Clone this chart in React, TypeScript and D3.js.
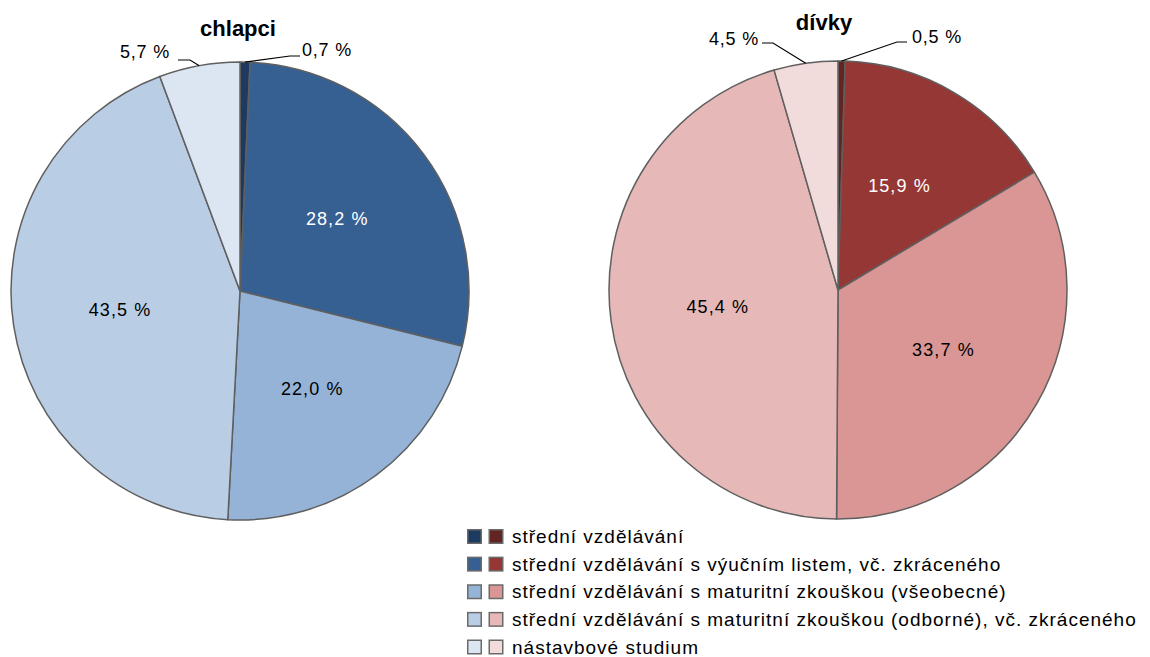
import React from "react";
import * as d3 from "d3";

const categories = [
  "střední vzdělávání",
  "střední vzdělávání s výučním listem, vč. zkráceného",
  "střední vzdělávání s maturitní zkouškou (všeobecné)",
  "střední vzdělávání s maturitní zkouškou (odborné), vč. zkráceného",
  "nástavbové studium",
];
const boysValues = [0.7, 28.2, 22.0, 43.5, 5.7];
const girlsValues = [0.5, 15.9, 33.7, 45.4, 4.5];
const boysLabels = ["0,7 %", "28,2 %", "22,0 %", "43,5 %", "5,7 %"];
const girlsLabels = ["0,5 %", "15,9 %", "33,7 %", "45,4 %", "4,5 %"];
const boysColors = ["#1f3a60", "#376092", "#95b3d7", "#b9cde5", "#dce6f2"];
const girlsColors = ["#632523", "#953735", "#d99694", "#e6b9b8", "#f2dcdb"];
const labelFill = ["#000", "#fff", "#000", "#000", "#000"];

const FONT = "'Liberation Sans', Arial, sans-serif";

type Leader = { i: number; ex: number; ey: number; hx: number; tx: number; ty: number; anchor: string };
type PieProps = {
  cx: number;
  cy: number;
  r: number;
  values: number[];
  labels: string[];
  colors: string[];
  title: string;
  titleX: number;
  titleY: number;
  leaders: Leader[];
};

function Pie({ cx, cy, r, values, labels, colors, title, titleX, titleY, leaders }: PieProps) {
  const pie = d3.pie<number>().sort(null).value((d) => d);
  const arcs = pie(values);
  const arc = d3.arc<d3.PieArcDatum<number>>().innerRadius(0).outerRadius(r);
  const labelArc = d3.arc<d3.PieArcDatum<number>>().innerRadius(r * 0.5).outerRadius(r * 0.56);
  const outerIdx = new Set(leaders.map((l) => l.i));
  return (
    <g>
      <g transform={`translate(${cx},${cy})`}>
        {arcs.map((a, i) => (
          <path key={i} d={arc(a) || ""} fill={colors[i]} stroke="#5f5f5f" strokeWidth={1.5} strokeLinejoin="round" />
        ))}
        {arcs.map((a, i) => {
          if (outerIdx.has(i)) return null;
          const [x, y] = labelArc.centroid(a);
          return (
            <text key={i} x={x} y={y} dy="0.35em" textAnchor="middle" fontSize={18} letterSpacing={1.1} fill={labelFill[i]} fontFamily={FONT}>
              {labels[i]}
            </text>
          );
        })}
        {leaders.map((l) => {
          const a = arcs[l.i];
          const mid = (a.startAngle + a.endAngle) / 2;
          const px = Math.sin(mid) * r;
          const py = -Math.cos(mid) * r;
          return (
            <g key={l.i}>
              <polyline
                points={`${px},${py} ${l.ex - cx},${l.ey - cy} ${l.hx - cx},${l.ey - cy}`}
                fill="none"
                stroke="#000"
                strokeWidth={1.2}
              />
              <text x={l.tx - cx} y={l.ty - cy} dy="0.35em" textAnchor={l.anchor} fontSize={18} letterSpacing={0.8} fill="#000" fontFamily={FONT}>
                {labels[l.i]}
              </text>
            </g>
          );
        })}
      </g>
      <text x={titleX} y={titleY} textAnchor="middle" fontSize={22} fontWeight="bold" fontFamily={FONT} fill="#000">
        {title}
      </text>
    </g>
  );
}

export default function App() {
  const legendY = d3.scalePoint<number>().domain(d3.range(categories.length)).range([536.5, 647]);
  return (
    <svg width={1150} height={657} style={{ position: "absolute", left: 0, top: 0, background: "#fff" }}>
      <rect width={1150} height={657} fill="#fff" />
      <Pie
        cx={240}
        cy={291}
        r={229}
        values={boysValues}
        labels={boysLabels}
        colors={boysColors}
        title="chlapci"
        titleX={238}
        titleY={36}
        leaders={[
          { i: 0, ex: 290, ey: 56, hx: 300, tx: 302, ty: 50, anchor: "start" },
          { i: 4, ex: 190, ey: 60, hx: 178, tx: 170, ty: 52, anchor: "end" },
        ]}
      />
      <Pie
        cx={838}
        cy={290}
        r={229}
        values={girlsValues}
        labels={girlsLabels}
        colors={girlsColors}
        title="dívky"
        titleX={824}
        titleY={30}
        leaders={[
          { i: 0, ex: 897, ey: 42, hx: 907, tx: 912, ty: 37, anchor: "start" },
          { i: 4, ex: 773, ey: 43, hx: 762, tx: 759, ty: 39, anchor: "end" },
        ]}
      />
      <g>
        {categories.map((c, i) => {
          const y = legendY(i) as number;
          return (
            <g key={i}>
              <rect x={467.75} y={y - 6.75} width={13.5} height={13.5} fill={boysColors[i]} stroke="#6a6a6a" strokeWidth={1.5} />
              <rect x={489.25} y={y - 6.75} width={13.5} height={13.5} fill={girlsColors[i]} stroke="#6a6a6a" strokeWidth={1.5} />
              <text x={512} y={y} dy="0.35em" fontSize={19} letterSpacing={1.0} fontFamily={FONT} fill="#000">
                {c}
              </text>
            </g>
          );
        })}
      </g>
    </svg>
  );
}
